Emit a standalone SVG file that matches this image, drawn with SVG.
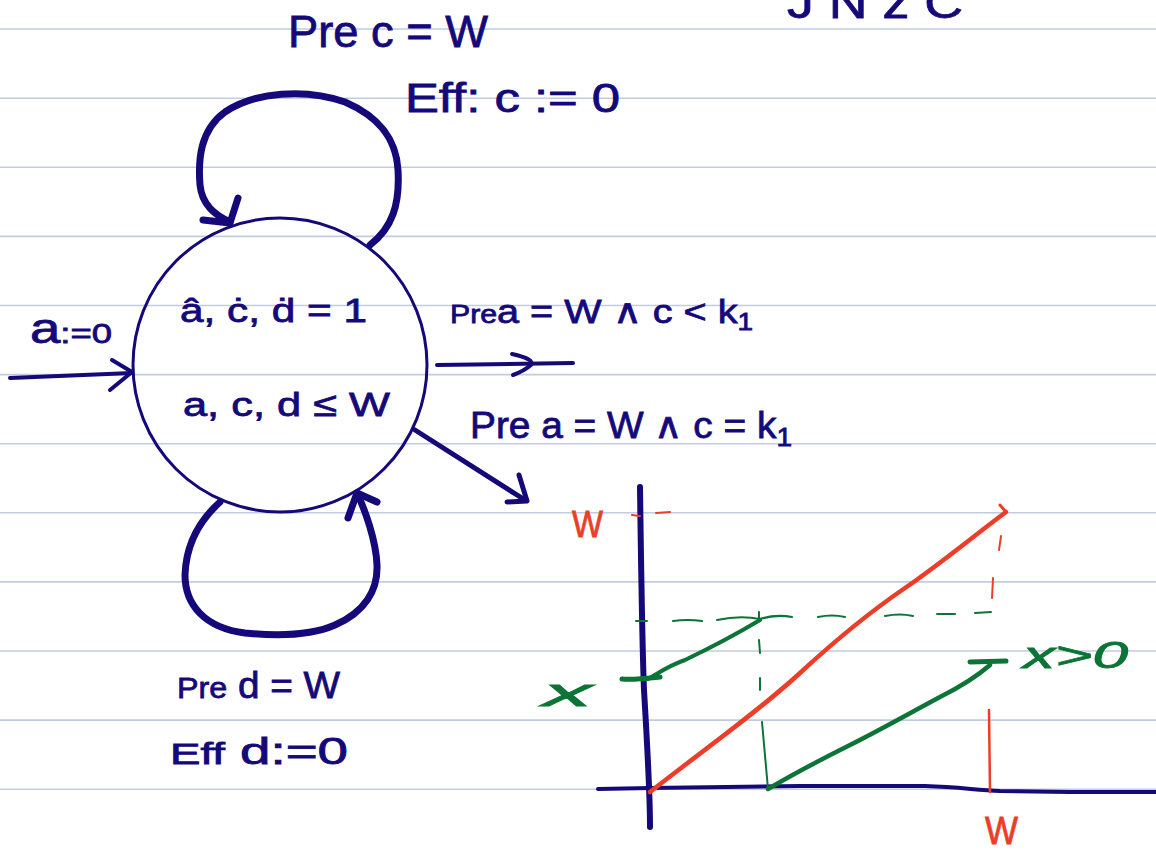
<svg xmlns="http://www.w3.org/2000/svg" width="1156" height="850" viewBox="0 0 1156 850">
<defs>
<style>
.rule{stroke:#c2cce0;stroke-width:1.6}
.ink{fill:none;stroke:#15097a;stroke-linecap:round;stroke-linejoin:round}
.red{fill:none;stroke:#ec3d28;stroke-linecap:round;stroke-linejoin:round}
.grn{fill:none;stroke:#0c7436;stroke-linecap:round;stroke-linejoin:round}
.t{font-family:"Liberation Sans","Noto Sans",sans-serif;fill:#15097a;stroke:#15097a;stroke-width:0.8}
.tr{font-family:"Liberation Sans","Noto Sans",sans-serif;fill:#ec3d28;stroke:#ec3d28;stroke-width:0.8}
.tg{font-family:"Liberation Sans","Noto Sans",sans-serif;fill:#0c7436;stroke:#0c7436;stroke-width:0.8}
</style>
</defs>
<rect width="1156" height="850" fill="#ffffff"/>
<g id="ruled-lines">
<line class="rule" x1="0" y1="29" x2="1156" y2="29"/>
<line class="rule" x1="0" y1="98.2" x2="1156" y2="98.2"/>
<line class="rule" x1="0" y1="167.3" x2="1156" y2="167.3"/>
<line class="rule" x1="0" y1="236.4" x2="1156" y2="236.4"/>
<line class="rule" x1="0" y1="305.5" x2="1156" y2="305.5"/>
<line class="rule" x1="0" y1="374.6" x2="1156" y2="374.6"/>
<line class="rule" x1="0" y1="443.7" x2="1156" y2="443.7"/>
<line class="rule" x1="0" y1="512.8" x2="1156" y2="512.8"/>
<line class="rule" x1="0" y1="581.9" x2="1156" y2="581.9"/>
<line class="rule" x1="0" y1="651" x2="1156" y2="651"/>
<line class="rule" x1="0" y1="720.1" x2="1156" y2="720.1"/>
<line class="rule" x1="0" y1="789.2" x2="1156" y2="789.2"/>
</g>
<text class="t" x="787" y="18" font-size="44" textLength="176" lengthAdjust="spacingAndGlyphs">J N z C</text>
<g id="state">
<circle class="ink" cx="280" cy="365" r="147" stroke-width="3"/>
<text class="t" x="180" y="322" font-size="34" textLength="187" lengthAdjust="spacingAndGlyphs">â, ċ, ḋ = 1</text>
<text class="t" x="183" y="416" font-size="34" textLength="207" lengthAdjust="spacingAndGlyphs">a, c, d ≤ W</text>
</g>
<g id="connectors">
<g id="self-loop-top">
<path class="ink" stroke-width="7" d="M370,245 C392,228 400,205 398,170 C396,135 375,115 345,102 C305,88 255,92 225,112 C200,130 198,160 200,185 C202,205 215,215 230,222"/>
<path class="ink" stroke-width="7" d="M203,220 L230,223 L238,198"/>
</g>
<g id="self-loop-bottom">
<path class="ink" stroke-width="7" d="M220,502 C200,520 186,545 185,575 C185,605 205,628 245,633 C275,636 310,636 335,625 C365,612 378,590 377,565 C376,540 365,510 357,493"/>
<path class="ink" stroke-width="7" d="M348,518 L357,493 L377,502"/>
</g>
<g id="initial-arrow">
<path class="ink" stroke-width="4" d="M10,378 L132,373"/>
<path class="ink" stroke-width="4" d="M112,360 L132,372 L110,390"/>
</g>
<g id="arrow-right">
<path class="ink" stroke-width="4" d="M437,365 L573,363"/>
<path class="ink" stroke-width="4" d="M512,354 Q535,359 531,365 Q524,371 513,375"/>
</g>
<g id="arrow-diag">
<path class="ink" stroke-width="5" d="M415,430 L525,500"/>
<path class="ink" stroke-width="5" d="M519,475 L527,501 L507,502"/>
</g>
</g>
<g id="labels">
<text class="t" x="288" y="47" font-size="44" textLength="200" lengthAdjust="spacingAndGlyphs">Pre c = W</text>
<text class="t" x="405" y="112" font-size="40" textLength="215" lengthAdjust="spacingAndGlyphs">Eff: c := 0</text>
<text class="t" x="30" y="343" textLength="82" lengthAdjust="spacingAndGlyphs"><tspan font-size="42">a</tspan><tspan font-size="28">:=0</tspan></text>
<text class="t" x="450" y="323" font-size="34" textLength="303" lengthAdjust="spacingAndGlyphs"><tspan font-size="26">Pre</tspan>a = W ∧ c &lt; k<tspan font-size="24" dy="7">1</tspan></text>
<text class="t" x="470" y="438" font-size="36" textLength="322" lengthAdjust="spacingAndGlyphs">Pre a = W ∧ c = k<tspan font-size="26" dy="8">1</tspan></text>
<text class="t" x="177" y="698" font-size="36" textLength="163" lengthAdjust="spacingAndGlyphs"><tspan font-size="30">Pre</tspan> d = W</text>
<text class="t" x="170" y="764" font-size="36" textLength="178" lengthAdjust="spacingAndGlyphs"><tspan font-size="30">Eff</tspan>  d:=0</text>
</g>
<g id="graph">
<path class="ink" stroke-width="6" d="M640,487 C641,560 642,640 644,690 C647,740 650,790 650,827"/>
<path class="ink" stroke-width="4" d="M598,789 L650,788 L800,786 L925,786 C960,787 975,790 1000,791 L1070,792 L1156,792"/>
<path class="red" stroke-width="4.5" d="M650,792 C710,745 760,710 800,673 S870,612 905,588 S975,535 1006,512"/>
<path class="red" stroke-width="3" d="M1000,505 L1006,512"/>
<path class="red" stroke-width="2" d="M632,515 L640,516 M656,513 L670,512 M1001,536 L999,550 M993,578 L992,598"/>
<path class="red" stroke-width="2.5" d="M989,710 L990,792"/>
<path class="grn" stroke-width="5" d="M622,679 C635,680 650,678 660,677"/>
<path class="grn" stroke-width="4" d="M648,679 C660,672 670,665 685,660 C710,648 735,635 760,620"/>
<path class="grn" stroke-width="2" d="M636,621 L647,621 M673,621 Q688,619 702,621 M717,620 Q740,615 760,619 M760,619 Q776,614 792,617 M818,617 Q832,614 845,617 M885,616 Q900,613 913,616 M937,614 L955,614 M975,613 L991,612"/>
<path class="grn" stroke-width="2" d="M759,612 L759,620 M759,640 L760,653 M760,678 L760,690 M762,722 L768,789"/>
<path class="grn" stroke-width="4.5" d="M768,789 C790,776 820,760 850,745 C880,730 910,713 940,697 C960,687 975,678 990,665"/>
<path class="grn" stroke-width="5" d="M970,662 L1006,661"/>
<text class="tr" x="572" y="537" font-size="36" textLength="31" lengthAdjust="spacingAndGlyphs">W</text>
<text class="tr" x="985" y="844" font-size="38" textLength="33" lengthAdjust="spacingAndGlyphs">W</text>
<text class="tg" x="543" y="706" font-size="38" font-style="italic" textLength="49" lengthAdjust="spacingAndGlyphs">x</text>
<text class="tg" x="1023" y="668" font-size="36" font-style="italic" textLength="105" lengthAdjust="spacingAndGlyphs">x&gt;0</text>
</g>
</svg>
